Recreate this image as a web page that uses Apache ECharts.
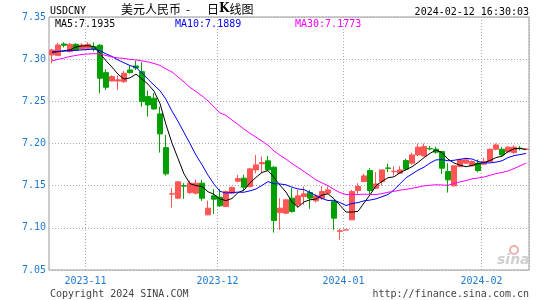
<!DOCTYPE html>
<html><head><meta charset="utf-8">
<script src="https://cdn.jsdelivr.net/npm/echarts@6/dist/echarts.min.js"></script>
<style>html,body{margin:0;padding:0;background:#fff}#c{width:545px;height:300px}</style>
</head><body><div id="c"></div>
<script>
var dates = ['2023-10-24','2023-10-25','2023-10-26','2023-10-27','2023-10-30','2023-10-31',
'2023-11-01','2023-11-02','2023-11-03','2023-11-06','2023-11-07','2023-11-08','2023-11-09','2023-11-10','2023-11-13','2023-11-14','2023-11-15','2023-11-16','2023-11-17','2023-11-20','2023-11-21','2023-11-22','2023-11-23','2023-11-24','2023-11-27','2023-11-28','2023-11-29','2023-11-30',
'2023-12-01','2023-12-04','2023-12-05','2023-12-06','2023-12-07','2023-12-08','2023-12-11','2023-12-12','2023-12-13','2023-12-14','2023-12-15','2023-12-18','2023-12-19','2023-12-20','2023-12-21','2023-12-22','2023-12-25','2023-12-26','2023-12-27','2023-12-28','2023-12-29',
'2024-01-01','2024-01-02','2024-01-03','2024-01-04','2024-01-05','2024-01-08','2024-01-09','2024-01-10','2024-01-11','2024-01-12','2024-01-15','2024-01-16','2024-01-17','2024-01-18','2024-01-19','2024-01-22','2024-01-23','2024-01-24','2024-01-25','2024-01-26','2024-01-29','2024-01-30','2024-01-31',
'2024-02-01','2024-02-02','2024-02-05','2024-02-06','2024-02-07','2024-02-08','2024-02-09','2024-02-12'];

var opens = [7.3050,7.3042,7.3180,7.3089,7.3176,7.3121,7.3129,7.3148,7.3165,7.2840,
7.2741,7.2740,7.2733,7.2872,7.2919,7.2852,7.2556,7.2537,7.2351,7.1951,
7.1400,7.1352,7.1500,7.1418,7.1411,7.1530,7.1154,7.1379,7.1364,7.1252,
7.1411,7.1553,7.1589,7.1489,7.1687,7.1759,7.1794,7.1719,7.1181,7.1174,
7.1352,7.1273,7.1371,7.1418,7.1320,7.1352,7.1411,7.1312,7.0960,7.0975,
7.1095,7.1442,7.1549,7.1679,7.1470,7.1549,7.1710,7.1665,7.1648,7.1797,
7.1766,7.1865,7.1853,7.1941,7.1932,7.1904,7.1667,7.1498,7.1726,7.1767,
7.1734,7.1767,7.1755,7.1786,7.1932,7.1932,7.1900,7.1892,7.1945,7.1928];
var closes = [7.3109,7.3168,7.3165,7.3176,7.3109,7.3168,7.3176,7.3121,7.2774,7.2667,
7.2793,7.2755,7.2833,7.2840,7.2896,7.2496,7.2457,7.2410,7.2114,7.1640,
7.1403,7.1545,7.1495,7.1530,7.1530,7.1352,7.1233,7.1340,7.1261,7.1430,
7.1477,7.1584,7.1482,7.1699,7.1746,7.1774,7.1687,7.1087,7.1233,7.1332,
7.1193,7.1379,7.1403,7.1352,7.1379,7.1430,7.1450,7.1115,7.0965,7.0976,
7.1430,7.1490,7.1616,7.1442,7.1521,7.1687,7.1705,7.1670,7.1687,7.1695,
7.1865,7.1956,7.1963,7.1936,7.1897,7.1707,7.1569,7.1735,7.1806,7.1806,
7.1786,7.1679,7.1786,7.1932,7.1983,7.1865,7.1956,7.1956,7.1940,7.1935];
var lows = [7.2952,7.3040,7.3140,7.3080,7.3100,7.3110,7.3120,7.3090,7.2596,7.2635,
7.2740,7.2635,7.2720,7.2830,7.2872,7.2437,7.2319,7.2398,7.1892,7.1620,
7.1240,7.1340,7.1344,7.1400,7.1395,7.1320,7.1150,7.1166,7.1250,7.1250,
7.1400,7.1540,7.1450,7.1480,7.1648,7.1648,7.1680,7.0944,7.0976,7.1160,
7.1180,7.1240,7.1273,7.1225,7.1300,7.1332,7.1400,7.0976,7.0858,7.0975,
7.1090,7.1400,7.1540,7.1390,7.1460,7.1500,7.1660,7.1620,7.1640,7.1680,
7.1750,7.1850,7.1850,7.1920,7.1880,7.1640,7.1418,7.1490,7.1720,7.1760,
7.1730,7.1660,7.1750,7.1780,7.1920,7.1850,7.1890,7.1880,7.1920,7.1925];
var highs = [7.3121,7.3192,7.3200,7.3192,7.3190,7.3190,7.3200,7.3200,7.3180,7.2880,
7.2810,7.2810,7.2860,7.2931,7.2982,7.2963,7.2627,7.2596,7.2437,7.2102,
7.1470,7.1550,7.1530,7.1560,7.1570,7.1570,7.1323,7.1459,7.1459,7.1440,
7.1490,7.1628,7.1628,7.1710,7.1865,7.1845,7.1853,7.1730,7.1352,7.1340,
7.1470,7.1450,7.1490,7.1450,7.1400,7.1490,7.1490,7.1320,7.0990,7.0976,
7.1450,7.1530,7.1640,7.1707,7.1660,7.1690,7.1760,7.1730,7.1730,7.1820,
7.1890,7.2000,7.2000,7.1970,7.1960,7.1910,7.1766,7.1740,7.1820,7.1830,
7.1800,7.1810,7.1830,7.1940,7.2000,7.1960,7.1970,7.1980,7.1970,7.1940];

// moving-average values for the days whose window starts before the chart
var ma5Early = [7.3080,7.3090,7.3100,7.3110];
var ma10Early = [7.3085,7.3090,7.3095,7.3100,7.3105,7.3110,7.3115,7.3118,7.3100];
var ma30Early = [7.2979,7.2997,7.3014,7.3032,7.3044,7.3056,7.3062,7.3065,7.3062,7.3044,
7.3026,7.3014,7.3009,7.2997,7.2991,7.2979,7.2967,7.2949,7.2926,7.2884,
7.2848,7.2789,7.2730,7.2665,7.2617,7.2564,7.2505,7.2434,7.2363];

// texts shown in the picture
var legendTexts = ['MA5:7.1935', 'MA10:7.1889', 'MA30:7.1773'];
var yTicks = [7.05, 7.35, 0.05];

function ma(n, early) {
  var out = [];
  for (var i = 0; i < closes.length; i++) {
    if (i < n - 1) { out.push(early[i]); continue; }
    var s = 0;
    for (var j = i - n + 1; j <= i; j++) s += closes[j];
    out.push(+(s / n).toFixed(4));
  }
  return out;
}
var ma5 = ma(5, ma5Early), ma10 = ma(10, ma10Early), ma30 = ma(30, ma30Early);
var kdata = opens.map(function (o, i) { return [o, closes[i], lows[i], highs[i]]; });

var MONO = '"DejaVu Sans Mono", "Liberation Mono", monospace';
var BLUE = '#1f7ad2';
function monthStart(idx) {
  if (idx === 0) return false;
  return dates[idx].slice(0, 7) !== dates[idx - 1].slice(0, 7);
}

var chart = echarts.init(document.getElementById('c'), null, {renderer: 'canvas'});
chart.setOption({
  animation: false,
  backgroundColor: '#fff',
  grid: {left: 49, top: 17, width: 480, height: 253, show: true, borderColor: '#999', borderWidth: 1, backgroundColor: 'transparent'},
  xAxis: {
    type: 'category', data: dates, boundaryGap: true,
    axisLine: {show: false}, axisTick: {show: false},
    axisLabel: {interval: function (i) { return monthStart(i); }, formatter: function (v) { return v.slice(0, 7); },
      color: BLUE, fontFamily: MONO, fontSize: 10, margin: 6, padding: [0, 5, 0, 0]},
    splitLine: {show: true, interval: function (i) { return monthStart(i); }, lineStyle: {color: '#aaa', type: [1, 2], width: 1}}
  },
  yAxis: {
    type: 'value', min: yTicks[0], max: yTicks[1], interval: yTicks[2], scale: true,
    axisLine: {show: false}, axisTick: {show: false},
    axisLabel: {formatter: function (v) { return v.toFixed(2); }, color: BLUE, fontFamily: MONO, fontSize: 10, margin: 3},
    splitLine: {show: true, lineStyle: {color: '#aaa', type: [1, 2], width: 1}}
  },
  series: [
    {type: 'candlestick', data: kdata, barWidth: 5,
      itemStyle: {color: '#ff5555', color0: '#00a000', borderColor: '#ff5555', borderColor0: '#00a000', borderWidth: 1}},
    {type: 'line', data: ma5, symbol: 'none', lineStyle: {color: '#000', width: 1}},
    {type: 'line', data: ma10, symbol: 'none', lineStyle: {color: '#0000ff', width: 1}},
    {type: 'line', data: ma30, symbol: 'none', lineStyle: {color: '#ff00ff', width: 1}}
  ],
  graphic: [
    {type: 'text', left: 50, top: 6, style: {text: 'USDCNY', fill: '#000', font: '10px ' + MONO}},
    {type: 'text', left: 121, top: 3, style: {text: '美元人民币', fill: '#000', font: '12px "Noto Sans CJK SC"'}},
    {type: 'text', left: 186, top: 3, style: {text: '-', fill: '#000', font: '12px "Noto Sans CJK SC"'}},
    {type: 'text', left: 207, top: 3, style: {rich: {a: {font: '12px "Noto Sans CJK SC"', fill: '#000'}, b: {font: 'bold 12px "DejaVu Serif"', fill: '#000'}}, text: '{a|日}{b|K}{a|线图}'}},
    {type: 'text', right: 16, top: 7, style: {text: '2024-02-12 16:30:03', fill: '#000', font: '10px ' + MONO}},
    {type: 'text', left: 55, top: 19, style: {text: legendTexts[0], fill: '#000', font: '10px ' + MONO}},
    {type: 'text', left: 175, top: 19, style: {text: legendTexts[1], fill: '#0000ff', font: '10px ' + MONO}},
    {type: 'text', left: 295, top: 19, style: {text: legendTexts[2], fill: '#ff00ff', font: '10px ' + MONO}},
    {type: 'text', left: 50, top: 289, style: {text: 'Copyright 2024 SINA.COM', fill: '#444', font: '10px ' + MONO}},
    {type: 'text', right: 16, top: 289, style: {text: 'http://finance.sina.com.cn', fill: '#444', font: '10px ' + MONO}},
    {type: 'text', left: 497, top: 253, style: {text: 'sina', fill: '#cfcfcf', font: 'italic bold 14px "DejaVu Sans"'}},
    {type: 'circle', shape: {cx: 514, cy: 250, r: 4}, style: {fill: 'none', stroke: '#f0b0b0', lineWidth: 2}}
  ]
});
</script></body></html>
